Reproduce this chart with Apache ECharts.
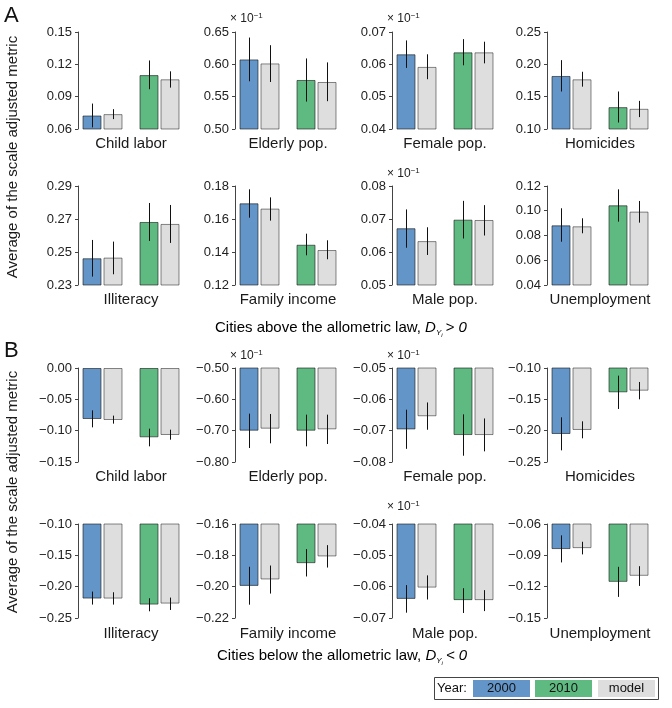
<!DOCTYPE html>
<html>
<head>
<meta charset="utf-8">
<script src="https://cdn.jsdelivr.net/npm/echarts@6/dist/echarts.min.js"></script>
<style>html,body{margin:0;padding:0;background:#fff}#c{width:672px;height:708px}</style>
</head>
<body>
<div id="c"></div>
<script>
// ---------- DATA ----------
const panelNames = ['Child labor', 'Elderly pop.', 'Female pop.', 'Homicides',
                    'Illiteracy', 'Family income', 'Male pop.', 'Unemployment'];
const sciFlag = [false, true, true, false, false, false, true, false]; // "x 10^-1" note

// Section A: cities above the allometric law
const A_obs2000    = [0.0725, 0.6076, 0.0631, 0.182, 0.2462, 0.1695, 0.0672, 0.0882];
const A_obs2000Err = [[0.0615,0.0836],[0.5738,0.6414],[0.0589,0.0674],[0.158,0.2065],[0.2351,0.2573],[0.1608,0.178],[0.0613,0.0729],[0.075,0.102]];
const A_mod2000    = [0.0738, 0.6014, 0.0592, 0.1768, 0.2466, 0.1663, 0.0633, 0.0874];
const A_mod2000Err = [[0.0692,0.0784],[0.5727,0.6296],[0.0554,0.0631],[0.1655,0.1885],[0.2365,0.2563],[0.159,0.1731],[0.0591,0.0675],[0.0818,0.0939]];
const A_obs2010    = [0.110, 0.5758, 0.0637, 0.1338, 0.2682, 0.1444, 0.0698, 0.1044];
const A_obs2010Err = [[0.0969,0.1236],[0.5424,0.6091],[0.0597,0.0678],[0.110,0.158],[0.2567,0.2797],[0.138,0.1511],[0.0641,0.0755],[0.0912,0.1173]];
const A_mod2010    = [0.1061, 0.5727, 0.0637, 0.1312, 0.2670, 0.1412, 0.0697, 0.0993];
const A_mod2010Err = [[0.0984,0.1135],[0.543,0.603],[0.0603,0.067],[0.1184,0.1435],[0.2555,0.2785],[0.1356,0.1471],[0.065,0.0742],[0.0904,0.1079]];
const A_ticks = [[0.06,0.09,0.12,0.15],[0.50,0.55,0.60,0.65],[0.04,0.05,0.06,0.07],[0.10,0.15,0.20,0.25],
                 [0.23,0.25,0.27,0.29],[0.12,0.14,0.16,0.18],[0.05,0.06,0.07,0.08],[0.04,0.06,0.08,0.10,0.12]];

// Section B: cities below the allometric law
const B_obs2000    = [-0.0814, -0.70, -0.0696, -0.2053, -0.219, -0.1995, -0.0639, -0.084];
const B_obs2000Err = [[-0.0947,-0.0676],[-0.7553,-0.6457],[-0.0758,-0.0633],[-0.2314,-0.1787],[-0.2286,-0.2078],[-0.2115,-0.1873],[-0.0683,-0.0595],[-0.0968,-0.0709]];
const B_mod2000    = [-0.083, -0.6936, -0.0654, -0.1989, -0.219, -0.1954, -0.0603, -0.0831];
const B_mod2000Err = [[-0.0888,-0.076],[-0.7404,-0.6468],[-0.0697,-0.061],[-0.2122,-0.1851],[-0.2286,-0.2089],[-0.2044,-0.1865],[-0.0641,-0.0564],[-0.0891,-0.077]];
const B_obs2010    = [-0.1106, -0.70, -0.0714, -0.1388, -0.2286, -0.185, -0.0643, -0.1154];
const B_obs2010Err = [[-0.125,-0.0968],[-0.75,-0.6489],[-0.078,-0.0648],[-0.1654,-0.1122],[-0.2393,-0.2185],[-0.1935,-0.176],[-0.0684,-0.0605],[-0.1298,-0.101]];
const B_mod2010    = [-0.1069, -0.6957, -0.0714, -0.1362, -0.227, -0.1807, -0.0643, -0.1096];
const B_mod2010Err = [[-0.1144,-0.0984],[-0.7426,-0.6489],[-0.0766,-0.0661],[-0.15,-0.1223],[-0.2372,-0.2174],[-0.1878,-0.1735],[-0.0678,-0.0611],[-0.1193,-0.1004]];
const B_ticks = [[-0.15,-0.10,-0.05,0.00],[-0.80,-0.70,-0.60,-0.50],[-0.08,-0.07,-0.06,-0.05],[-0.25,-0.20,-0.15,-0.10],
                 [-0.25,-0.20,-0.15,-0.10],[-0.22,-0.20,-0.18,-0.16],[-0.07,-0.06,-0.05,-0.04],[-0.15,-0.12,-0.09,-0.06]];

const yearCats = ['2000', '2010'];
const legendLabels = ['2000', '2010', 'model'];

// ---------- STYLE / LAYOUT ----------
const BLUE = '#6395c8', GREEN = '#5fba82', GRAY = '#dedede';
const FONT = 'Liberation Sans, Arial, Helvetica, sans-serif';
const BAR_W = 19, BAR_GAP_PX = 2;
const colLeft = [74, 231, 388, 543];
const GRID_W = 114, AXIS_SHIFT = 4;
const rowLayout = [
  {top: 32,  height: 97, nameGap: 7, sciGap: 6},
  {top: 186, height: 99, nameGap: 7, sciGap: 4},
  {top: 368, height: 94, nameGap: 7, sciGap: 4},
  {top: 524, height: 94, nameGap: 8, sciGap: 10}
];

const sections = [
  {obs2000: A_obs2000, obs2000Err: A_obs2000Err, mod2000: A_mod2000, mod2000Err: A_mod2000Err,
   obs2010: A_obs2010, obs2010Err: A_obs2010Err, mod2010: A_mod2010, mod2010Err: A_mod2010Err, ticks: A_ticks},
  {obs2000: B_obs2000, obs2000Err: B_obs2000Err, mod2000: B_mod2000, mod2000Err: B_mod2000Err,
   obs2010: B_obs2010, obs2010Err: B_obs2010Err, mod2010: B_mod2010, mod2010Err: B_mod2010Err, ticks: B_ticks}
];

function fmt(v) {
  let s = Math.abs(v) < 1e-9 ? '0.00' : v.toFixed(2);
  return s.replace('-', '\u2212');
}

const grid = [], xAxis = [], yAxis = [], series = [];
sections.forEach((sec, s) => {
  for (let i = 0; i < 8; i++) {
    const gi = s * 8 + i;
    const row = s * 2 + Math.floor(i / 4), col = i % 4;
    const L = rowLayout[row];
    const ticks = sec.ticks[i];
    grid.push({left: colLeft[col], top: L.top, width: GRID_W, height: L.height, containLabel: false});
    xAxis.push({
      type: 'category', gridIndex: gi, data: yearCats,
      axisLine: {show: false}, axisTick: {show: false}, axisLabel: {show: false}, splitLine: {show: false},
      name: panelNames[i], nameLocation: 'middle', nameGap: L.nameGap,
      nameTextStyle: {fontFamily: FONT, fontSize: 15, color: '#1a1a1a', verticalAlign: 'top'}
    });
    yAxis.push({
      type: 'value', gridIndex: gi, min: ticks[0], max: ticks[ticks.length - 1],
      interval: +(ticks[1] - ticks[0]).toFixed(4),
      offset: -AXIS_SHIFT,
      axisLine: {show: true, lineStyle: {color: '#444', width: 1}},
      axisTick: {show: true, length: 3, inside: false, lineStyle: {color: '#444'}, customValues: ticks},
      axisLabel: {fontFamily: FONT, fontSize: 13, color: '#222', margin: 6, formatter: fmt, customValues: ticks},
      splitLine: {show: false},
      name: sciFlag[i] ? '{a|\u00d7 10}{b|\u22121}' : '',
      nameLocation: 'end', nameGap: L.sciGap,
      nameTextStyle: {align: 'left', padding: [0, 0, 0, -5],
        rich: {a: {fontFamily: FONT, fontSize: 12, color: '#222', lineHeight: 14},
               b: {fontFamily: FONT, fontSize: 8, color: '#222', verticalAlign: 'top', lineHeight: 14}}}
    });
    series.push({
      type: 'bar', xAxisIndex: gi, yAxisIndex: gi, barWidth: BAR_W,
      barGap: (BAR_GAP_PX / BAR_W * 100) + '%', clip: true,
      itemStyle: {borderColor: 'rgba(20,20,20,0.6)', borderWidth: 1},
      data: [{value: sec.obs2000[i], itemStyle: {color: BLUE}}, {value: sec.obs2010[i], itemStyle: {color: GREEN}}]
    });
    series.push({
      type: 'bar', xAxisIndex: gi, yAxisIndex: gi, barWidth: BAR_W, clip: true,
      itemStyle: {color: GRAY, borderColor: 'rgba(20,20,20,0.5)', borderWidth: 1},
      data: [sec.mod2000[i], sec.mod2010[i]]
    });
    series.push({
      type: 'custom', xAxisIndex: gi, yAxisIndex: gi, clip: false, z: 5,
      data: [
        [0, sec.obs2000Err[i][0], sec.obs2000Err[i][1], -1],
        [0, sec.mod2000Err[i][0], sec.mod2000Err[i][1], 1],
        [1, sec.obs2010Err[i][0], sec.obs2010Err[i][1], -1],
        [1, sec.mod2010Err[i][0], sec.mod2010Err[i][1], 1]
      ],
      renderItem: function (params, api) {
        const c = api.value(0);
        const p1 = api.coord([c, api.value(1)]);
        const p2 = api.coord([c, api.value(2)]);
        const off = api.value(3) * (BAR_W + BAR_GAP_PX) / 2;
        const x = Math.round(p1[0] + off) + 0.5;
        return {type: 'line', shape: {x1: x, y1: p1[1], x2: x, y2: p2[1]},
                style: {stroke: '#111', lineWidth: 1}};
      }
    });
  }
});

// ---------- TEXT / LEGEND ----------
const capRich = {
  n: {fontFamily: FONT, fontSize: 15, color: '#1a1a1a', lineHeight: 18},
  d: {fontFamily: FONT, fontSize: 15, fontStyle: 'italic', color: '#1a1a1a', lineHeight: 18},
  s: {fontFamily: FONT, fontSize: 8, fontStyle: 'italic', color: '#1a1a1a', lineHeight: 18, verticalAlign: 'bottom'},
  ss: {fontFamily: FONT, fontSize: 6, fontStyle: 'italic', color: '#1a1a1a', lineHeight: 18, verticalAlign: 'bottom', padding: [0, 3, -1, 0]}
};
const graphic = [
  {type: 'text', left: 4, top: 5, style: {text: 'A', font: '22px ' + FONT, fill: '#111'}},
  {type: 'text', left: 4, top: 340, style: {text: 'B', font: '22px ' + FONT, fill: '#111'}},
  {type: 'text', x: 13, y: 157, rotation: Math.PI / 2,
   style: {text: 'Average of the scale adjusted metric', font: '15px ' + FONT, fill: '#1a1a1a', align: 'center', verticalAlign: 'middle'}},
  {type: 'text', x: 13, y: 492, rotation: Math.PI / 2,
   style: {text: 'Average of the scale adjusted metric', font: '15px ' + FONT, fill: '#1a1a1a', align: 'center', verticalAlign: 'middle'}},
  {type: 'text', x: 215, y: 328,
   style: {text: '{n|Cities above the allometric law, }{d|D}{s|Y}{ss|i}{d|> 0}', rich: capRich, verticalAlign: 'middle'}},
  {type: 'text', x: 217, y: 656,
   style: {text: '{n|Cities below the allometric law, }{d|D}{s|Y}{ss|i}{d|< 0}', rich: capRich, verticalAlign: 'middle'}},
  // legend box
  {type: 'rect', shape: {x: 434.5, y: 677.5, width: 224, height: 22}, style: {fill: '#fff', stroke: '#444', lineWidth: 1}},
  {type: 'text', x: 437, y: 688.5, style: {text: 'Year:', font: '13px ' + FONT, fill: '#111', verticalAlign: 'middle'}}
];
const legendColors = [BLUE, GREEN, GRAY];
const legendX = [473, 535, 598];
legendLabels.forEach((lab, k) => {
  graphic.push({type: 'rect', shape: {x: legendX[k], y: 680, width: 57, height: 17}, style: {fill: legendColors[k]}});
  graphic.push({type: 'text', x: legendX[k] + 28.5, y: 688.5,
    style: {text: lab, font: '13px ' + FONT, fill: '#111', align: 'center', verticalAlign: 'middle'}});
});

const chart = echarts.init(document.getElementById('c'), null, {renderer: 'canvas'});
chart.setOption({animation: false, backgroundColor: '#fff', grid, xAxis, yAxis, series, graphic});
</script>
</body>
</html>
